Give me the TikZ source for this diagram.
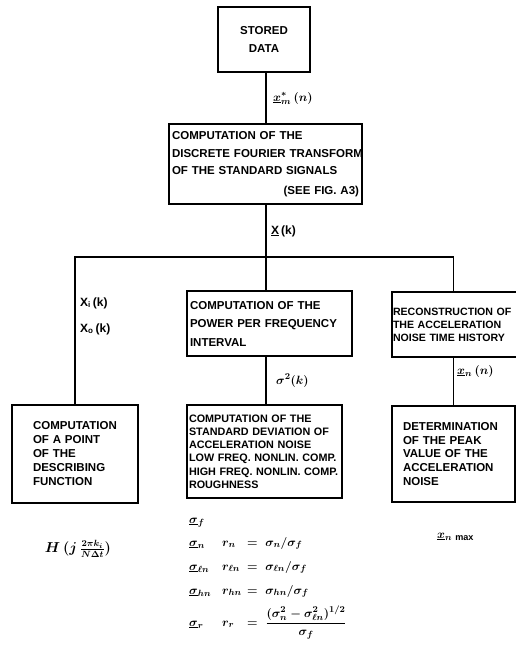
\documentclass[tikz,border=0pt]{standalone}
\usepackage{fontspec}
\setmainfont{Liberation Sans}
\begin{document}
\begin{tikzpicture}[x=1pt,y=-1pt,
  font=\fontsize{11.5}{13.5}\selectfont\bfseries,
  box/.style={draw, line width=1.7pt, inner ysep=0pt, align=left},
  conn/.style={line width=1.7pt},
  lbl/.style={inner sep=0pt, anchor=base west, font=\fontsize{12}{13}\selectfont\bfseries},
  mth/.style={inner sep=0pt, anchor=base west, font=\fontsize{13}{15}\selectfont\boldmath}]
\useasboundingbox (0,0) rectangle (516,661);

% boxes
\node[box, align=center, minimum width=92pt, minimum height=65pt, inner xsep=0pt,
      font=\fontsize{11.5}{18}\selectfont\bfseries] (st) at (264,39.5) {STORED\\DATA};
\node[box, minimum width=193pt, minimum height=80pt, text width=187pt, inner xsep=3pt,
      font=\fontsize{11.5}{17.5}\selectfont\bfseries] (dft) at (265.5,164)
  {COMPUTATION OF THE\\\mbox{DISCRETE FOURIER TRANSFORM}\\OF THE STANDARD SIGNALS\\[2pt]\hfill (SEE FIG. A3)\hspace*{4pt}};
\node[box, minimum width=165pt, minimum height=65pt, text width=159pt, inner xsep=3pt,
      font=\fontsize{11.5}{18.5}\selectfont\bfseries] (cm) at (269.5,323.5)
  {COMPUTATION OF THE\\POWER PER FREQUENCY\\INTERVAL};
\node[box, minimum width=126pt, minimum height=65pt, text width=124pt, inner xsep=1pt,
      font=\fontsize{10.6}{13}\selectfont\bfseries] (rec) at (455,324.5)
  {\mbox{RECONSTRUCTION OF}\\\mbox{THE ACCELERATION}\\\mbox{NOISE TIME HISTORY}};
\node[box, minimum width=126pt, minimum height=98pt, text width=84pt, inner xsep=21pt,
      font=\fontsize{11.5}{14}\selectfont\bfseries] (ll) at (75,454)
  {COMPUTATION\\OF A POINT\\OF THE\\DESCRIBING\\FUNCTION};
\node[box, minimum width=155pt, minimum height=93pt, text width=151pt, inner xsep=2pt,
      font=\fontsize{10.8}{13.2}\selectfont\bfseries] (lm) at (264.5,451.5)
  {COMPUTATION OF THE\\\mbox{STANDARD DEVIATION OF}\\ACCELERATION NOISE\\\mbox{LOW FREQ. NONLIN. COMP.}\\\mbox{HIGH FREQ. NONLIN. COMP.}\\ROUGHNESS};
\node[box, minimum width=123pt, minimum height=96pt, text width=101pt, inner xsep=11pt,
      font=\fontsize{11.5}{13.75}\selectfont\bfseries] (lr) at (453.5,454)
  {DETERMINATION\\OF THE PEAK\\VALUE OF THE\\ACCELERATION\\NOISE};

% connectors
\coordinate (j) at (266,257);
\draw[conn] (st.south -| j) -- (dft.north -| j) ;
\draw[conn] (dft.south -| j) -- (j);
\draw[conn] (ll.north) |- (j) -| (rec.north -| lr.north);
\draw[conn] (j) -- (j |- cm.north);
\draw[conn] (j |- cm.south) -- (j |- lm.north);
\draw[conn] (rec.south -| lr.north) -- (lr.north);

% labels
\node[mth] (lxm) at (273,101) {$\underline{x}^{*}_{m}\,(n)$};
\node[lbl] (lXk) at (271,234) {\underline{X}\,(k)};
\node[lbl] (lXi) at (80,306) {X\textsubscript{i}\,(k)};
\node[lbl] (lXo) at (80,332) {X\textsubscript{o}\,(k)};
\node[mth] (lsig) at (276,384) {$\sigma^2(k)$};
\node[mth] (lxn) at (457,374) {$\underline{x}_n\,(n)$};

% outputs
\node[inner sep=0pt, font=\fontsize{13.5}{15}\selectfont\boldmath] (H) at (78,549) {$H\,(j\,\frac{2\pi k_i}{N\Delta t})$};
\node[mth] (xmax) at (437,538) {$\underline{x}_{n\,\max}$};

\node[mth] (s1) at (189,523) {$\underline{\sigma}_f$};
\node[mth] (s2) at (189,546) {$\underline{\sigma}_n$};
\node[mth] (r2) at (222,546) {$r_n$};
\node[mth] (e2) at (247,546) {$=\;\sigma_n/\sigma_f$};
\node[mth] (s3) at (189,570) {$\underline{\sigma}_{\ell n}$};
\node[mth] (r3) at (222,570) {$r_{\ell n}$};
\node[mth] (e3) at (247,570) {$=\;\sigma_{\ell n}/\sigma_f$};
\node[mth] (s4) at (189,594) {$\underline{\sigma}_{hn}$};
\node[mth] (r4) at (222,594) {$r_{hn}$};
\node[mth] (e4) at (247,594) {$=\;\sigma_{hn}/\sigma_f$};
\node[mth] (s5) at (189,626) {$\underline{\sigma}_r$};
\node[mth] (r5) at (222,626) {$r_r$};
\node[mth] (e5) at (247,626) {$=\;\displaystyle\frac{(\sigma_n^2-\sigma^2_{\ell n})^{1/2}}{\sigma_f}$};
\end{tikzpicture}
\end{document}
